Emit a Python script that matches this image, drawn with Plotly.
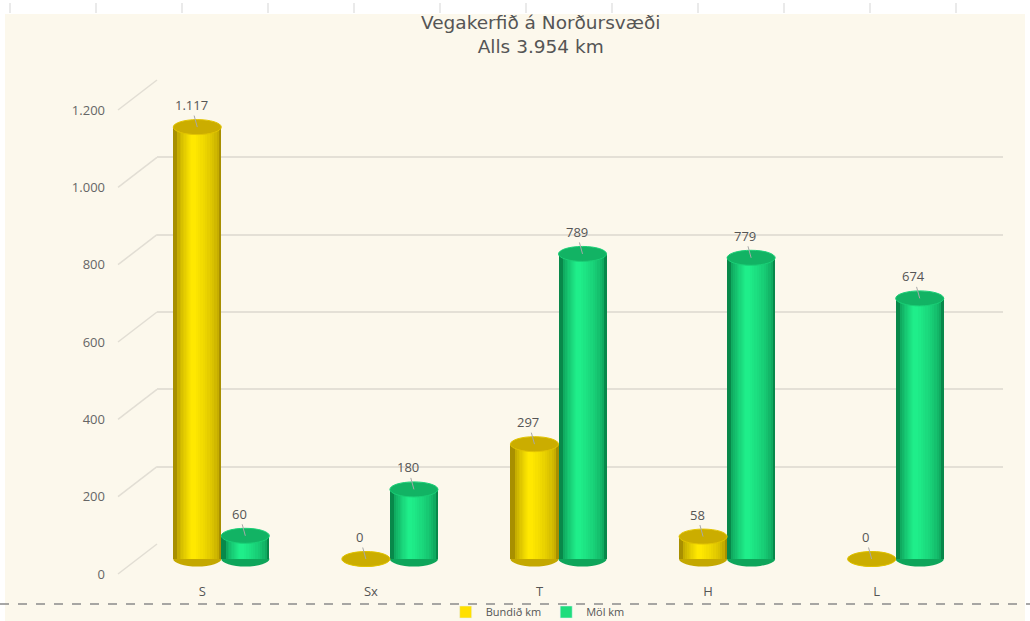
import plotly.graph_objects as go

# ---- data ----
categories = ["S", "Sx", "T", "H", "L"]
bundid_km = [1117, 0, 297, 58, 0]
mol_km = [60, 180, 789, 779, 674]
series_names = ["Bundið km", "Möl km"]
y_ticks = [0, 200, 400, 600, 800, 1000, 1200]
title_lines = ["Vegakerfið á Norðursvæði", "Alls 3.954 km"]

W, H = 1030, 621
FONT = "Open Sans"


def fx(p):
    return p / W


def fy(p):
    return 1 - p / H


def fmt(v):
    return f"{v:,}".replace(",", ".")


def hex2rgb(h):
    h = h.lstrip("#")
    return [int(h[i:i + 2], 16) for i in (0, 2, 4)]


def mix(c1, c2, t):
    a, b = hex2rgb(c1), hex2rgb(c2)
    return "#" + "".join(f"{round(x + (y - x) * t):02X}" for x, y in zip(a, b))


# pixel geometry (perspective planes)
S = 464 / 1200.0          # px per unit
BACK_ZERO, FRONT_ZERO, MID_ZERO = 544, 574, 559
Y_LO, Y_HI = -100, 1300

fig = go.Figure()

# invisible traces to make helper subplots render
fig.add_trace(go.Scatter(x=[0], y=[0], xaxis="x", yaxis="y", mode="markers",
                         marker=dict(opacity=0), showlegend=False, hoverinfo="skip"))
fig.add_trace(go.Scatter(x=[0], y=[0], xaxis="x3", yaxis="y3", mode="markers",
                         marker=dict(opacity=0), showlegend=False, hoverinfo="skip"))

bw = 0.285
palettes = [
    dict(edge="#A88F00", light="#FFE800", legend="#FFE000",
         top="#CBAD00", rim="#E2C400", bottom="#C4A800"),
    dict(edge="#08884A", light="#1FEE8A", legend="#1EDD7C",
         top="#12B364", rim="#1ACF76", bottom="#0EA55A"),
]
all_values = [bundid_km, mol_km]

shapes = []
annotations = []

# cream background
shapes.append(dict(type="rect", xref="paper", yref="paper", x0=fx(5), x1=fx(1025),
                   y0=0, y1=fy(14), fillcolor="#FCF8EC", line=dict(width=0), layer="below"))
# top ruler ticks
for k in range(12):
    xp = 10 + 86 * k
    shapes.append(dict(type="line", xref="paper", yref="paper", x0=fx(xp), x1=fx(xp),
                       y0=fy(3), y1=fy(13), line=dict(color="#D5D5D5", width=1)))
# diagonal depth lines from front labels to back wall
for t in y_ticks:
    shapes.append(dict(type="line", xref="paper", yref="paper",
                       x0=fx(118), y0=fy(FRONT_ZERO - t * S),
                       x1=fx(157), y1=fy(BACK_ZERO - t * S),
                       line=dict(color="#E2DED4", width=1.5)))
# dashed separator
shapes.append(dict(type="line", xref="paper", yref="paper", x0=0, x1=1, y0=fy(604), y1=fy(604),
                   line=dict(color="#8A8A8A", width=1.5, dash="dash")))

eh = 7.5 / S  # half ellipse height in data units
N_LAYERS = 12
HC, HW = -0.08, 0.05   # highlight centre / half width (fraction of bar width)

for j, (vals, pal, name) in enumerate(zip(all_values, palettes, series_names)):
    off = (-0.5 + j) * bw
    centers = [i + off for i in range(len(categories))]
    for k in range(N_LAYERS):
        t = k / (N_LAYERS - 1)
        left = -0.5 + ((HC - HW) + 0.5) * (t ** 0.6)
        right = 0.5 - (0.5 - (HC + HW)) * t
        col = mix(pal["edge"], pal["light"], t ** 0.45)
        fig.add_trace(go.Bar(
            x=[c + (left + right) / 2 * bw for c in centers], y=vals, width=(right - left) * bw,
            xaxis="x2", yaxis="y2", marker=dict(color=col, line=dict(width=0)),
            showlegend=False, hoverinfo="skip"))
    # legend entry
    fig.add_trace(go.Bar(x=[None], y=[None], xaxis="x2", yaxis="y2", name=name,
                         marker=dict(color=pal["legend"]), showlegend=True, hoverinfo="skip"))
    for c, v in zip(centers, vals):
        shapes.append(dict(type="circle", xref="x2", yref="y2",
                           x0=c - bw / 2, x1=c + bw / 2, y0=-eh, y1=eh,
                           fillcolor=pal["bottom"], line=dict(width=0), layer="below"))
        shapes.append(dict(type="circle", xref="x2", yref="y2",
                           x0=c - bw / 2, x1=c + bw / 2, y0=v - eh, y1=v + eh,
                           fillcolor=pal["top"], line=dict(color=pal["rim"], width=1),
                           layer="above"))
        annotations.append(dict(x=c, y=v, xref="x2", yref="y2", text=fmt(v),
                                showarrow=True, arrowhead=0, arrowwidth=1,
                                arrowcolor="#A8A8A8", ax=-6, ay=-22, standoff=0,
                                font=dict(family=FONT, size=13, color="#555555")))

# title
annotations.append(dict(x=fx(540), y=fy(34), xref="paper", yref="paper",
                        text="<br>".join(title_lines), showarrow=False,
                        font=dict(family="DejaVu Sans", size=18.5, color="#555555"),
                        xanchor="center", yanchor="middle"))

fig.update_layout(
    width=W, height=H,
    margin=dict(l=0, r=0, t=0, b=0, autoexpand=False),
    paper_bgcolor="white",
    plot_bgcolor="rgba(0,0,0,0)",
    barmode="overlay",
    bargap=0,
    font=dict(family=FONT, color="#5A5A5A"),
    showlegend=True,
    legend=dict(orientation="h", x=0.522, xanchor="center", y=fy(612), yanchor="middle",
                bgcolor="rgba(0,0,0,0)", font=dict(size=11, color="#555555"),
                itemwidth=30, traceorder="normal"),
    shapes=shapes,
    annotations=annotations,
    # back wall grid
    xaxis=dict(domain=[fx(157), fx(1003)], range=[0, 1], visible=False, anchor="y"),
    yaxis=dict(domain=[fy(BACK_ZERO), fy(BACK_ZERO - 1200 * S)], range=[0, 1200],
               tickvals=y_ticks, showgrid=True, gridcolor="#E4E0D6", gridwidth=1.5,
               showticklabels=False, zeroline=False, showline=False, anchor="x"),
    # bars (middle plane)
    xaxis2=dict(domain=[fx(137), fx(980)], range=[-0.5, 4.5], visible=False, anchor="y2"),
    yaxis2=dict(domain=[fy(MID_ZERO - Y_LO * S), fy(MID_ZERO - Y_HI * S)], range=[Y_LO, Y_HI],
                visible=False, anchor="x2"),
    # front plane labels
    xaxis3=dict(domain=[fx(118), fx(961)], range=[-0.5, 4.5], anchor="y3",
                tickvals=list(range(len(categories))), ticktext=categories,
                showgrid=False, zeroline=False, showline=False, ticks="",
                ticklabelstandoff=8, tickfont=dict(size=13, color="#555555")),
    yaxis3=dict(domain=[fy(FRONT_ZERO), fy(FRONT_ZERO - 1200 * S)], range=[0, 1200],
                anchor="x3", tickvals=y_ticks, ticktext=[fmt(t) for t in y_ticks],
                showgrid=False, zeroline=False, showline=False, ticks="",
                ticklabelstandoff=12, tickfont=dict(size=13, color="#666666")),
)

fig.write_html("out.html", config={"displayModeBar": False},
               post_script="document.body.style.margin='0px';")
